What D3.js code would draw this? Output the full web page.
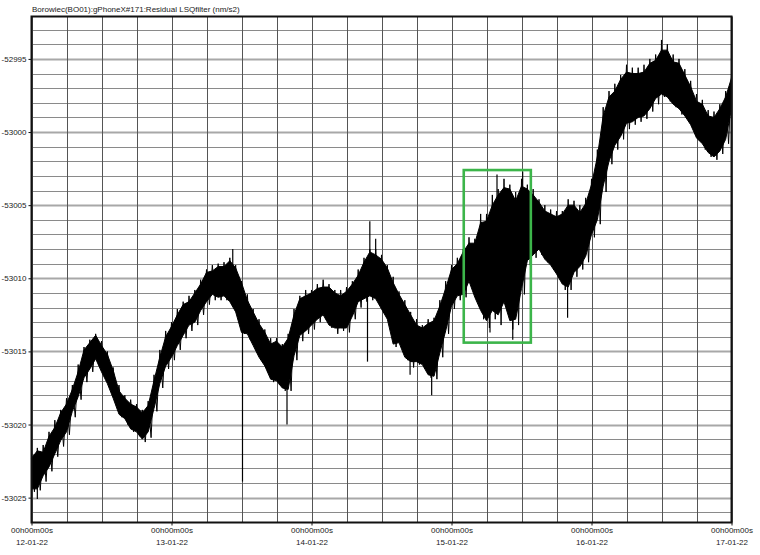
<!DOCTYPE html>
<html>
<head>
<meta charset="utf-8">
<script src="https://cdn.jsdelivr.net/npm/d3@7"></script>
<style>
  html, body { margin: 0; padding: 0; background: #fff; }
  svg { display: block; }
  text { font-family: "Liberation Sans", Arial, sans-serif; fill: #222; }
</style>
</head>
<body>
<svg id="chart" width="760" height="555"></svg>
<script>
// ---- DATA ----
const title = "Borowiec(BO01):gPhoneX#171:Residual LSQfilter (nm/s2)";
const startDate = Date.UTC(2022, 0, 12);
const endDate = Date.UTC(2022, 0, 17);
// hourly samples, hours since 12-01-22 00h00m00s
const hours = d3.range(0, 121);
// hourly maximum of the residual (nm/s2)
const hiValues = [
  -53021.9, -53021.6, -53021.4, -53020.5, -53019.7, -53019.0, -53018.2, -53017.3, -53015.9, -53014.7,
  -53014.2, -53013.8, -53014.3, -53015.0, -53016.1, -53017.3, -53018.0, -53018.3, -53018.6, -53019.0,
  -53018.4, -53016.6, -53014.9, -53013.6, -53013.0,
  -53012.1, -53011.6, -53011.2, -53010.8, -53010.1, -53009.4, -53009.1, -53009.0, -53008.9, -53008.6,
  -53009.1, -53010.2, -53011.1, -53012.1, -53012.8, -53013.5, -53014.1, -53014.1, -53014.5, -53013.8,
  -53012.1, -53011.2, -53010.8, -53010.8,
  -53010.4, -53010.1, -53010.4, -53010.8, -53010.8, -53010.6, -53010.2, -53009.4, -53008.6, -53008.0,
  -53008.0, -53008.4, -53009.1, -53009.9, -53010.9, -53011.5, -53012.3, -53012.8, -53013.2, -53012.8,
  -53012.7, -53011.5, -53010.2, -53009.1,
  -53008.6, -53008.0, -53007.2, -53007.3, -53005.6, -53005.6, -53004.3, -53003.9, -53003.2, -53003.6,
  -53004.1, -53003.2, -53003.6, -53003.9, -53004.6, -53005.0, -53005.3, -53005.4, -53005.4, -53004.6,
  -53004.7, -53005.0, -53004.5, -53003.2,
  -53001.2, -52998.3, -52997.2, -52996.7, -52996.1, -52995.4, -52995.6, -52995.6, -52995.4, -52995.0,
  -52994.7, -52994.2, -52994.0, -52994.7, -52995.0, -52995.7, -52996.5, -52997.4, -52997.8, -52998.5,
  -52998.6, -52998.1, -52997.2, -52996.1
];
// hourly minimum of the residual (nm/s2)
const loValues = [
  -53024.6, -53024.5, -53023.9, -53023.2, -53022.2, -53021.5, -53020.7, -53019.5, -53018.3, -53017.1,
  -53016.4, -53015.9, -53016.6, -53017.5, -53018.4, -53019.5, -53020.0, -53020.5, -53020.8, -53021.2,
  -53020.9, -53019.1, -53017.5, -53016.2, -53015.6,
  -53014.9, -53014.1, -53013.6, -53013.2, -53012.5, -53011.8, -53011.5, -53011.5, -53011.5, -53011.8,
  -53012.5, -53013.8, -53014.2, -53014.9, -53015.6, -53016.4, -53017.1, -53017.3, -53017.7, -53017.7,
  -53015.6, -53014.3, -53013.8, -53013.5,
  -53013.0, -53012.8, -53013.4, -53013.8, -53013.6, -53013.7, -53012.8, -53012.0, -53011.6, -53011.5,
  -53011.6, -53012.3, -53013.2, -53014.7, -53014.7, -53015.6, -53016.1, -53015.9, -53016.2, -53016.8,
  -53016.9, -53015.4, -53013.8, -53012.1,
  -53011.5, -53011.3, -53010.6, -53011.5, -53012.8, -53013.4, -53012.8, -53013.2, -53012.1, -53013.5,
  -53013.2, -53011.1, -53009.1, -53008.6, -53008.4, -53008.9, -53009.4, -53009.9, -53010.8, -53010.8,
  -53009.9, -53009.4, -53008.9, -53007.2,
  -53006.3, -53004.1, -53002.2, -53001.2, -53000.5, -52999.8, -52999.5, -52999.3, -52999.1, -52998.6,
  -52998.1, -52997.6, -52997.9, -52998.3, -52998.8, -52999.1, -52999.8, -53000.6, -53001.2, -53001.7,
  -53001.9, -53001.5, -53000.8, -52998.6
];
// how far the upward noise spikes reach above the dense core, per hour (nm/s2)
const upSpike = [
  0.4, 0.2, 0.5, 0.3, 0.5, 0.2, 0.4, 0.3, 0.5, 0.2, 0.2, 0.1, 0.3, 0.2, 0.2, 0.4, 0.2, 0.3, 0.2, 0.2, 0.3, 0.4, 0.5, 0.4, 0.3,
  0.4, 0.2, 0.4, 0.2, 0.3, 0.2, 0.4, 0.2, 0.3, 0.2, 0.2, 0.1, 0.4, 0.2, 0.3, 0.2, 0.4, 0.2, 0.2, 0.3, 0.4, 0.2, 0.4, 0.2,
  0.3, 0.5, 0.2, 0.2, 0.4, 0.3, 0.2, 0.4, 0.3, 0.2, 0.4, 0.3, 0.2, 0.4, 0.2, 0.3, 0.2, 0.4, 0.2, 0.3, 0.2, 0.4, 0.5, 0.3,
  0.4, 0.2, 0.4, 0.3, 0.6, 0.5, 0.7, 0.4, 0.6, 0.3, 0.6, 0.5, 0.3, 0.4, 0.2, 0.4, 0.3, 0.4, 0.2, 0.4, 0.3, 0.5, 0.4, 0.4,
  0.5, 0.6, 0.4, 0.5, 0.3, 0.5, 0.4, 0.4, 0.5, 0.3, 0.4, 0.2, 0.4, 0.5, 0.3, 0.4, 0.4, 0.5, 0.3, 0.4, 0.4, 0.3, 0.4, 0.2
];
// how far the downward noise spikes reach below the dense core, per hour (nm/s2)
const downSpike = [
  0.2, 0.1, 0.4, 0.3, 0.2, 0.4, 0.2, 0.4, 0.2, 0.3, 0.2, 0.4, 0.2, 0.3, 0.2, 0.2, 0.4, 0.2, 0.3, 0.2, 0.4, 0.2, 0.3, 0.2, 0.2,
  0.3, 0.2, 0.4, 0.2, 0.3, 0.2, 0.4, 0.2, 0.3, 0.2, 0.2, 0.1, 0.4, 0.3, 0.2, 0.4, 0.2, 0.3, 0.2, 0.1, 0.3, 0.4, 0.2, 0.3,
  0.2, 0.3, 0.2, 0.4, 0.2, 0.3, 0.2, 0.4, 0.2, 0.3, 0.2, 0.2, 0.4, 0.2, 0.3, 0.2, 0.4, 0.2, 0.3, 0.2, 0.2, 0.3, 0.2, 0.2,
  0.3, 0.2, 0.4, 0.2, 0.6, 0.5, 0.6, 0.7, 0.5, 0.6, 0.4, 0.4, 0.3, 0.2, 0.4, 0.2, 0.3, 0.2, 0.4, 0.2, 0.3, 0.2, 0.4, 0.2,
  0.3, 0.4, 0.2, 0.3, 0.2, 0.4, 0.2, 0.3, 0.2, 0.2, 0.4, 0.2, 0.3, 0.2, 0.4, 0.2, 0.3, 0.2, 0.4, 0.3, 0.2, 0.2, 0.3, 0.2
];
// isolated spikes: hour and extreme value
const spikeHours  = [1.0, 34.5, 36.17, 43.8, 57.6, 58.0, 59.0, 64.9, 68.6, 78.6, 79.8, 82.5, 84.2, 91.9, 108.0];
const spikeValues = [-53025.1, -53008.0, -53023.9, -53020.0, -53015.7, -53006.1, -53007.3, -53016.6,
                     -53018.0, -53013.7, -53002.9, -53014.2, -53002.7, -53012.7, -52993.7];
const yTicks = [-52995, -53000, -53005, -53010, -53015, -53020, -53025];
const yDomain = [-53026.7, -52992.1];
// highlighted window: [startHour, endHour, lowValue, highValue]
const highlight = [74.1, 85.6, -53014.4, -53002.6];

// ---- CHART ----
const svg = d3.select("#chart");
const L = 31.5, R = 731.5, T = 16.5, B = 522.5;
const hourMs = 3600 * 1000;
const x = d3.scaleUtc().domain([new Date(startDate), new Date(endDate)]).range([L, R]);
const y = d3.scaleLinear().domain(yDomain).range([B, T]);
const tx = h => x(new Date(startDate + h * hourMs));

// grid: horizontal every 1 unit
const hLines = d3.range(Math.ceil(yDomain[0]), Math.floor(yDomain[1]) + 1);
svg.append("g").selectAll("line").data(hLines).join("line")
  .attr("x1", L).attr("x2", R)
  .attr("y1", d => Math.round(y(d)) + 0.5).attr("y2", d => Math.round(y(d)) + 0.5)
  .attr("stroke", d => (d % 5 === 0) ? "#a8a8a8" : "#8a8a8a")
  .attr("stroke-width", d => (d % 5 === 0) ? 2 : 1);

// grid: vertical every 6 hours
const vTicks = x.ticks(d3.utcHour.every(6));
svg.append("g").selectAll("line").data(vTicks).join("line")
  .attr("x1", d => Math.round(x(d)) + 0.5).attr("x2", d => Math.round(x(d)) + 0.5)
  .attr("y1", T).attr("y2", B)
  .attr("stroke", "#555").attr("stroke-width", 1);

// series: dense core band
const band = hours.map((h, i) => ({ h, top: hiValues[i] - upSpike[i], bot: loValues[i] + downSpike[i] }));
svg.append("path")
  .datum(band)
  .attr("fill", "#000")
  .attr("stroke", "#000")
  .attr("stroke-width", 1)
  .attr("d", d3.area().x(d => tx(d.h)).y0(d => y(d.bot)).y1(d => y(d.top)));

// zig-zag through the hourly extremes (noise texture)
const pts = [];
hours.forEach((h, i) => {
  pts.push([h, hiValues[i]]);
  pts.push([Math.min(h + 0.5, 120), loValues[i]]);
});
svg.append("path")
  .datum(pts)
  .attr("fill", "none").attr("stroke", "#000").attr("stroke-width", 1)
  .attr("d", d3.line().x(d => tx(d[0])).y(d => y(d[1])));

// isolated spikes
const midAt = h => {
  const i = Math.min(Math.floor(h), 119), f = h - i;
  const m0 = (hiValues[i] + loValues[i]) / 2, m1 = (hiValues[i + 1] + loValues[i + 1]) / 2;
  return m0 + (m1 - m0) * f;
};
svg.append("g").selectAll("line").data(spikeHours.map((h, i) => [h, spikeValues[i]])).join("line")
  .attr("x1", d => tx(d[0])).attr("x2", d => tx(d[0]))
  .attr("y1", d => y(midAt(d[0]))).attr("y2", d => y(d[1]))
  .attr("stroke", "#000").attr("stroke-width", 1.2);

// highlight box
svg.append("rect")
  .attr("x", tx(highlight[0])).attr("y", y(highlight[3]))
  .attr("width", tx(highlight[1]) - tx(highlight[0]))
  .attr("height", y(highlight[2]) - y(highlight[3]))
  .attr("fill", "none").attr("stroke", "#3cb54a").attr("stroke-width", 2.6);

// frame
svg.append("rect")
  .attr("x", L).attr("y", T).attr("width", R - L).attr("height", B - T)
  .attr("fill", "none").attr("stroke", "#111").attr("stroke-width", 2);

// y axis
const yAxis = d3.axisLeft(y).tickValues(yTicks).tickSize(3).tickPadding(2)
  .tickFormat(d => String(d));
const gy = svg.append("g").attr("transform", `translate(${L},0)`).call(yAxis);
gy.select(".domain").remove();
gy.selectAll("text").style("font-size", "8px").attr("fill", "#222")
  .style("font-family", '"Liberation Sans", Arial, sans-serif');
gy.selectAll("line").attr("stroke", "#111");

// x axis
const dayTicks = x.ticks(d3.utcDay.every(1));
const xAxis = d3.axisBottom(x).tickValues(dayTicks).tickSize(3).tickFormat(() => "");
const gx = svg.append("g").attr("transform", `translate(0,${B})`).call(xAxis);
gx.select(".domain").remove();
gx.selectAll("line").attr("stroke", "#111");
const fTime = d3.utcFormat("%Hh%Mm%Ss");
const fDate = d3.utcFormat("%d-%m-%y");
gx.selectAll(".tick").each(function(d) {
  const g = d3.select(this);
  g.append("text").attr("y", 10.5).attr("text-anchor", "middle")
    .style("font-size", "8px").attr("fill", "#222").text(fTime(d));
  g.append("text").attr("y", 22.5).attr("text-anchor", "middle")
    .style("font-size", "8px").attr("fill", "#222").text(fDate(d));
});

// title
svg.append("text").attr("x", 32).attr("y", 12)
  .style("font-size", "8px").attr("fill", "#111").text(title);
</script>
</body>
</html>
